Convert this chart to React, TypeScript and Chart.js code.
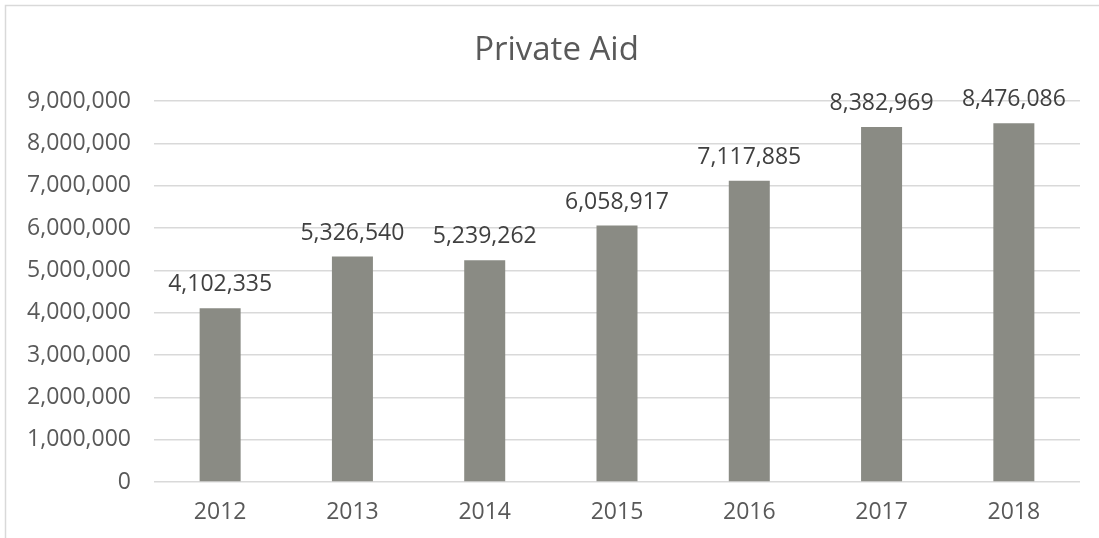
import React, { useEffect, useRef } from "react";
import { Chart, registerables } from "chart.js";

Chart.register(...registerables);

const years = ["2012", "2013", "2014", "2015", "2016", "2017", "2018"];
const privateAid = [4102335, 5326540, 5239262, 6058917, 7117885, 8382969, 8476086];
const chartTitle = "Private Aid";

const FONT = "'Open Sans', 'Liberation Sans', sans-serif";
const fmt = (v: number) => v.toLocaleString("en-US");

// Thin frame around the whole chart
const framePlugin = {
  id: "frame",
  beforeDraw(chart: Chart) {
    const { ctx } = chart;
    ctx.save();
    ctx.strokeStyle = "#d9d9d9";
    ctx.lineWidth = 1.5;
    ctx.beginPath();
    ctx.moveTo(5.5, chart.height + 5);
    ctx.lineTo(5.5, 5.5);
    ctx.lineTo(chart.width + 5, 5.5);
    ctx.stroke();
    ctx.restore();
  },
};

// Chart heading, centred over the frame
const headingPlugin = {
  id: "heading",
  afterDraw(chart: Chart) {
    const { ctx } = chart;
    ctx.save();
    ctx.fillStyle = "#595959";
    ctx.font = `33px ${FONT}`;
    ctx.textAlign = "center";
    ctx.textBaseline = "alphabetic";
    ctx.fillText(chartTitle, 556.5, 60);
    ctx.restore();
  },
};

// Value printed above each bar
const valueLabelPlugin = {
  id: "valueLabels",
  afterDatasetsDraw(chart: Chart) {
    const { ctx } = chart;
    const meta = chart.getDatasetMeta(0);
    const data = chart.data.datasets[0].data as number[];
    ctx.save();
    ctx.fillStyle = "#404040";
    ctx.font = `23px ${FONT}`;
    ctx.textAlign = "center";
    ctx.textBaseline = "alphabetic";
    meta.data.forEach((bar: any, i: number) => {
      ctx.fillText(fmt(data[i]), bar.x, bar.y - 17);
    });
    ctx.restore();
  },
};

export default function App() {
  const canvasRef = useRef<HTMLCanvasElement | null>(null);

  useEffect(() => {
    if (!canvasRef.current) return;
    const chart = new Chart(canvasRef.current, {
      type: "bar",
      data: {
        labels: years,
        datasets: [
          {
            label: chartTitle,
            data: privateAid,
            backgroundColor: "#8a8b84",
            categoryPercentage: 1,
            barPercentage: 0.31,
          },
        ],
      },
      options: {
        responsive: false,
        animation: false,
        layout: { padding: { left: 0, right: 19, top: 101, bottom: 0 } },
        plugins: {
          legend: { display: false },
          title: { display: false },
          tooltip: { enabled: false },
        },
        scales: {
          x: {
            grid: { display: false, drawTicks: false },
            border: { display: false },
            ticks: {
              color: "#595959",
              font: { family: FONT, size: 23 },
              padding: 17,
            },
            afterFit(scale: any) {
              scale.height = 56;
            },
          },
          y: {
            min: 0,
            max: 9000000,
            grid: { color: "#d9d9d9", lineWidth: 1.5, drawTicks: false },
            border: { display: false },
            ticks: {
              stepSize: 1000000,
              color: "#595959",
              font: { family: FONT, size: 23 },
              padding: 23,
              callback: (v: any) => fmt(Number(v)),
            },
            afterFit(scale: any) {
              scale.width = 154;
            },
          },
        },
      },
      plugins: [framePlugin, headingPlugin, valueLabelPlugin],
    });
    return () => chart.destroy();
  }, []);

  return (
    <div style={{ position: "absolute", left: 0, top: 0, width: 1099, height: 538, background: "#fff" }}>
      <canvas ref={canvasRef} width={1099} height={538} style={{ display: "block" }} />
    </div>
  );
}
